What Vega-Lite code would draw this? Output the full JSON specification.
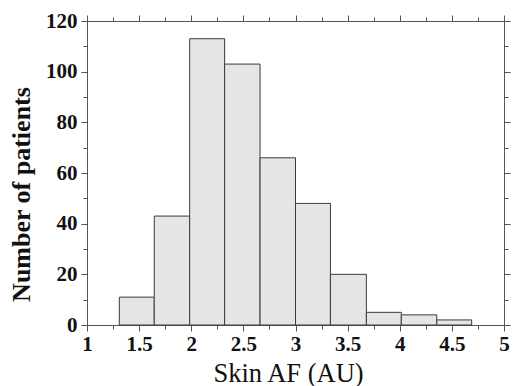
{
  "$schema": "https://vega.github.io/schema/vega-lite/v6.json",
  "width": 417,
  "height": 304,
  "autosize": {"type": "none"},
  "padding": {"left": 87, "top": 21, "right": 9, "bottom": 61},
  "background": "white",
  "config": {
    "view": {"stroke": null},
    "axis": {
      "domainColor": "#555555",
      "tickColor": "#555555",
      "grid": false,
      "labelFont": "Liberation Serif",
      "labelFontWeight": "bold",
      "labelFontSize": 21,
      "labelColor": "#111111",
      "titleFont": "Liberation Serif",
      "titleColor": "#111111"
    }
  },
  "data": {
    "values": [
      {"bin_start": 1.31, "bin_end": 1.645, "count": 11},
      {"bin_start": 1.645, "bin_end": 1.985, "count": 43},
      {"bin_start": 1.985, "bin_end": 2.32, "count": 113},
      {"bin_start": 2.32, "bin_end": 2.66, "count": 103},
      {"bin_start": 2.66, "bin_end": 3.0, "count": 66},
      {"bin_start": 3.0, "bin_end": 3.335, "count": 48},
      {"bin_start": 3.335, "bin_end": 3.68, "count": 20},
      {"bin_start": 3.68, "bin_end": 4.015, "count": 5},
      {"bin_start": 4.015, "bin_end": 4.355, "count": 4},
      {"bin_start": 4.355, "bin_end": 4.69, "count": 2}
    ]
  },
  "resolve": {"axis": {"x": "independent", "y": "independent"}},
  "layer": [
    {
      "mark": {"type": "bar", "fill": "#e5e5e5", "stroke": "#3a3a3a", "strokeWidth": 1},
      "encoding": {
        "x": {
          "field": "bin_start", "type": "quantitative",
          "scale": {"domain": [1, 5], "nice": false, "zero": false},
          "axis": {
            "orient": "bottom",
            "values": [1, 1.5, 2, 2.5, 3, 3.5, 4, 4.5, 5],
            "format": "~g",
            "tickSize": 6, "labelPadding": 2, "labelFlush": false,
            "title": "Skin AF (AU)",
            "titleFontSize": 26.5, "titleFontWeight": "normal",
            "titleX": 201, "titleY": 56, "titleBaseline": "alphabetic"
          }
        },
        "x2": {"field": "bin_end"},
        "y": {
          "field": "count", "type": "quantitative",
          "scale": {"domain": [0, 120], "nice": false},
          "axis": {
            "orient": "left",
            "values": [0, 20, 40, 60, 80, 100, 120],
            "tickSize": 6, "labelPadding": 4, "labelFlush": false,
            "title": "Number of patients",
            "titleFontSize": 26, "titleFontWeight": "bold",
            "titleX": -58, "titleY": 173, "titleBaseline": "alphabetic", "titleAngle": -90
          }
        },
        "y2": {"datum": 0}
      }
    },
    {
      "mark": {"type": "point", "opacity": 0},
      "encoding": {
        "x": {
          "field": "bin_start", "type": "quantitative",
          "axis": {"orient": "bottom", "values": [1.25, 1.75, 2.25, 2.75, 3.25, 3.75, 4.25, 4.75], "tickSize": 4, "labels": false, "domain": false, "title": null}
        },
        "y": {
          "field": "count", "type": "quantitative",
          "axis": {"orient": "left", "values": [10, 30, 50, 70, 90, 110], "tickSize": 4, "labels": false, "domain": false, "title": null}
        }
      }
    },
    {
      "mark": {"type": "point", "opacity": 0},
      "encoding": {
        "x": {
          "field": "bin_start", "type": "quantitative",
          "axis": {"orient": "top", "values": [1, 1.5, 2, 2.5, 3, 3.5, 4, 4.5, 5], "tickSize": 6, "labels": false, "title": null}
        },
        "y": {
          "field": "count", "type": "quantitative",
          "axis": {"orient": "right", "values": [0, 20, 40, 60, 80, 100, 120], "tickSize": 6, "labels": false, "title": null}
        }
      }
    },
    {
      "mark": {"type": "point", "opacity": 0},
      "encoding": {
        "x": {
          "field": "bin_start", "type": "quantitative",
          "axis": {"orient": "top", "values": [1.25, 1.75, 2.25, 2.75, 3.25, 3.75, 4.25, 4.75], "tickSize": 4, "labels": false, "domain": false, "title": null}
        },
        "y": {
          "field": "count", "type": "quantitative",
          "axis": {"orient": "right", "values": [10, 30, 50, 70, 90, 110], "tickSize": 4, "labels": false, "domain": false, "title": null}
        }
      }
    }
  ]
}
